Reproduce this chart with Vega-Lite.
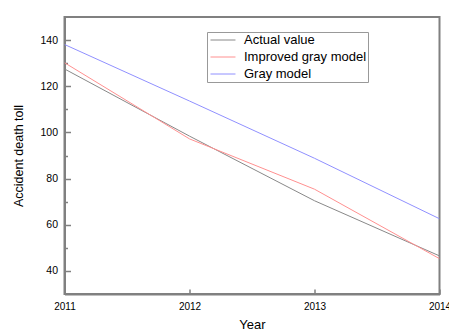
{
  "$schema": "https://vega.github.io/schema/vega-lite/v6.json",
  "width": 375,
  "height": 277,
  "autosize": "none",
  "padding": {"left": 64.5, "top": 17, "right": 9.5, "bottom": 37},
  "background": "white",
  "config": {
    "font": "Liberation Sans",
    "view": {"stroke": "#808080", "strokeWidth": 2},
    "axis": {"domainColor": "#808080", "domainWidth": 2, "tickColor": "#808080", "tickWidth": 1.5, "grid": false, "labelColor": "black", "titleColor": "black", "titleFontWeight": "normal", "labelFont": "Liberation Sans", "titleFont": "Liberation Sans"}
  },
  "data": {
    "values": [
      {"year": 2011, "series": "Actual value", "value": 127.5},
      {"year": 2012, "series": "Actual value", "value": 98.4},
      {"year": 2013, "series": "Actual value", "value": 70.4},
      {"year": 2014, "series": "Actual value", "value": 46.5},
      {"year": 2011, "series": "Improved gray model", "value": 130.2},
      {"year": 2012, "series": "Improved gray model", "value": 97.2},
      {"year": 2013, "series": "Improved gray model", "value": 75.4},
      {"year": 2014, "series": "Improved gray model", "value": 45.3},
      {"year": 2011, "series": "Gray model", "value": 138.1},
      {"year": 2012, "series": "Gray model", "value": 113.6},
      {"year": 2013, "series": "Gray model", "value": 88.8},
      {"year": 2014, "series": "Gray model", "value": 62.6}
    ]
  },
  "mark": {"type": "line", "strokeWidth": 1, "clip": true},
  "encoding": {
    "x": {
      "field": "year", "type": "quantitative",
      "scale": {"domain": [2011, 2014], "nice": false, "zero": false},
      "axis": {
        "title": "Year", "titleFontSize": 13, "titlePadding": 7,
        "values": [2011, 2011.5, 2012, 2012.5, 2013, 2013.5, 2014],
        "labelExpr": "datum.value % 1 == 0 ? datum.value : ''",
        "format": "d",
        "tickSize": {"condition": {"test": "datum.value % 1 != 0", "value": -3}, "value": -5},
        "labelFontSize": 10, "labelPadding": 12, "labelFlush": false, "labelOverlap": false
      }
    },
    "y": {
      "field": "value", "type": "quantitative",
      "scale": {"domain": [30, 150], "nice": false, "zero": false},
      "axis": {
        "title": "Accident death toll", "titleFontSize": 12.5, "titlePadding": 14,
        "values": [40, 50, 60, 70, 80, 90, 100, 110, 120, 130, 140],
        "labelExpr": "datum.value % 20 == 0 ? datum.value : ''",
        "tickSize": {"condition": {"test": "datum.value % 20 != 0", "value": -3}, "value": -6},
        "labelFontSize": 10.5, "labelPadding": 13, "labelOverlap": false
      }
    },
    "color": {
      "field": "series", "type": "nominal",
      "scale": {"domain": ["Actual value", "Improved gray model", "Gray model"], "range": ["#888888", "#ff9090", "#9090ff"]},
      "legend": {
        "title": null, "orient": "none", "legendX": 142.5, "legendY": 15,
        "symbolType": "M-0.69,0H3.15", "symbolSize": 169, "symbolStrokeWidth": 1,
        "labelFontSize": 13, "labelOffset": 22, "rowPadding": 3,
        "strokeColor": "#999999", "padding": 1, "cornerRadius": 0
      }
    }
  }
}
